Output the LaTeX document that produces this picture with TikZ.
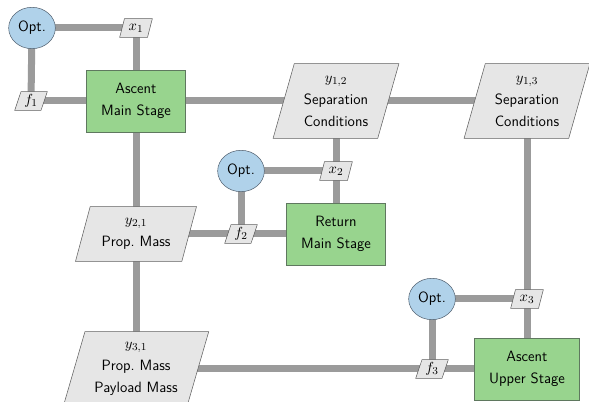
\documentclass[tikz,border=0pt]{standalone}
\usepackage{tikz}
\usetikzlibrary{shapes.geometric}
\usetikzlibrary{backgrounds}
\definecolor{optblue}{RGB}{176,210,234}
\definecolor{optline}{RGB}{85,100,115}
\definecolor{compgreen}{RGB}{152,212,142}
\definecolor{compline}{RGB}{95,120,95}
\definecolor{datagray}{RGB}{230,230,230}
\definecolor{dataline}{RGB}{95,95,95}
\definecolor{linkgray}{RGB}{155,155,155}
\begin{document}
\begin{tikzpicture}[x=0.75pt,y=-0.75pt,
  every node/.style={font=\sffamily\fontsize{11.2}{16.5}\selectfont,align=center},
  opt/.style={ellipse,draw=optline,fill=optblue,minimum width=35pt,minimum height=31pt,inner sep=0pt},
  comp/.style={rectangle,draw=compline,fill=compgreen,minimum width=74pt,minimum height=46.5pt,inner xsep=11pt},
  data/.style={trapezium,trapezium left angle=72,trapezium right angle=108,trapezium stretches=true,
    draw=dataline,fill=datagray,inner xsep=4pt,inner ysep=3pt,minimum height=56pt,minimum width=94.5pt},
  port/.style={data,inner sep=1pt,minimum height=14pt,minimum width=24.5pt},
  link/.style={line width=5.25pt,draw=linkgray}]
  \useasboundingbox (0,0) rectangle (589,402);
  % top stage
  \node[opt] (opt1) at (32,28) {Opt.};
  \node[port] (x1) at (136,28) {$x_1$};
  \node[port] (f1) at (31,101) {$f_1$};
  \node[comp] (ams) at (136,101) {Ascent\\Main Stage};
  \node[data] (y12) at (336,101) {$y_{1,2}$\\Separation\\Conditions};
  \node[data] (y13) at (527,101) {$y_{1,3}$\\Separation\\Conditions};
  % return stage
  \node[opt] (opt2) at (241,171) {Opt.};
  \node[port] (x2) at (336,171) {$x_2$};
  \node[data,minimum height=41pt,minimum width=91.5pt] (y21) at (136,234) {$y_{2,1}$\\Prop.\ Mass};
  \node[port] (f2) at (241,234) {$f_2$};
  \node[comp] (rms) at (336,234) {Return\\Main Stage};
  % upper stage
  \node[opt] (opt3) at (432,299) {Opt.};
  \node[port] (x3) at (527,299) {$x_3$};
  \node[data,minimum width=110pt] (y31) at (136,369) {$y_{3,1}$\\Prop.\ Mass\\Payload Mass};
  \node[port] (f3) at (432,369) {$f_3$};
  \node[comp] (aus) at (527,369) {Ascent\\Upper Stage};
  \begin{scope}[on background layer]
    \draw[link](opt1.center)--(x1.center);
    \draw[link](x1.center)--(ams.center);
    \draw[link](opt1.center)--(f1.center);
    \draw[link](f1.center)--(ams.center);
    \draw[link](ams.center)--(y12.center);
    \draw[link](y12.center)--(y13.center);
    \draw[link](ams.center)--(y21.center);
    \draw[link](y21.center)--(y31.center);
    \draw[link](y21.center)--(f2.center);
    \draw[link](f2.center)--(rms.center);
    \draw[link](opt2.center)--(f2.center);
    \draw[link](opt2.center)--(x2.center);
    \draw[link](y12.center)--(x2.center);
    \draw[link](x2.center)--(rms.center);
    \draw[link](y13.center)--(x3.center);
    \draw[link](x3.center)--(aus.center);
    \draw[link](opt3.center)--(x3.center);
    \draw[link](opt3.center)--(f3.center);
    \draw[link](y31.center)--(f3.center);
    \draw[link](f3.center)--(aus.center);
  \end{scope}
\end{tikzpicture}
\end{document}
